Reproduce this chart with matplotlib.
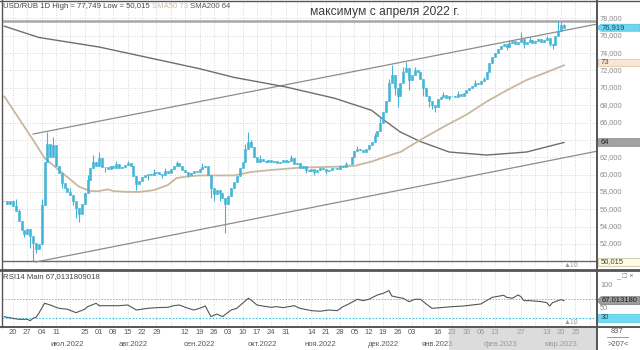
import numpy as np
import pandas as pd
import matplotlib
matplotlib.use("Agg")
import matplotlib.pyplot as plt
from matplotlib.patches import Rectangle, Polygon
from matplotlib.lines import Line2D
from matplotlib.transforms import blended_transform_factory as blend

plt.rcParams['font.family'] = ['Liberation Sans', 'DejaVu Sans']

W, H = 640, 350

# ---- data ----
first_day = '2022-06-15'
holidays = ['2022-11-04', '2023-01-02', '2023-02-23', '2023-03-08']
bars_visible = 207

first_open = 57.0
close = [
    56.9, 56.6, 57.0, 56.4, 55.8, 54.6, 53.6, 53.2, 53.7, 52.9,
    52.1, 51.4, 52.0, 56.5, 61.5, 63.5, 62.0, 63.4, 61.0, 60.2,
    59.0, 58.4, 58.0, 57.6, 57.0, 56.1, 55.4, 56.6, 57.9, 59.4,
    60.7, 61.5, 61.0, 61.9, 60.9, 60.9, 60.6, 61.0, 60.7, 61.2,
    60.8, 60.9, 61.1, 61.3, 61.0, 59.8, 58.9, 59.3, 59.7, 59.9,
    60.1, 60.0, 60.2, 60.3, 60.1, 60.0, 60.4, 60.2, 60.6, 61.0,
    61.3, 61.0, 60.5, 60.3, 60.0, 60.2, 60.4, 60.3, 60.6, 60.9,
    61.0, 60.0, 58.5, 57.8, 58.2, 57.9, 57.3, 56.6, 57.5, 58.5,
    59.2, 59.8, 60.8, 61.5, 63.0, 63.8, 63.2, 62.0, 61.5, 61.8,
    61.6, 61.4, 61.7, 61.5, 61.6, 61.3, 61.5, 61.7, 61.4, 61.6,
    61.9, 61.2, 61.3, 60.8, 61.0, 60.5, 60.4, 60.6, 60.3, 60.5,
    60.7, 60.6, 60.4, 60.5, 60.7, 60.8, 60.6, 61.0, 60.9, 61.2,
    61.2, 62.0, 62.7, 63.0, 62.8, 62.6, 62.9, 63.4, 63.8, 64.5,
    65.0, 66.0, 67.2, 68.5, 70.5, 71.5, 70.0, 69.0, 70.5, 71.8,
    72.3, 70.9, 71.5, 72.0, 71.8, 71.0, 70.0, 69.0, 68.5, 68.0,
    67.8, 68.7, 68.9, 69.2, 68.8, 69.0, 69.1, 68.9, 69.3, 69.1,
    69.4, 69.8, 70.0, 70.2, 70.5, 70.4, 70.8, 71.0, 71.8, 72.8,
    73.6, 74.0, 74.5, 74.8, 75.0, 74.7, 75.2, 75.4, 75.0, 75.3,
    75.6, 75.0, 75.3, 75.5, 75.2, 75.4, 75.6, 75.3, 75.5, 75.7,
    75.0, 74.9, 76.0, 76.5, 77.2, 76.919,
]
wick_high = {4: 57.2, 5: 56.0, 13: 57.2, 15: 64.9, 17: 64.3, 18: 62.5, 20: 60.0, 23: 58.5,
             29: 60.0, 31: 62.3, 33: 62.6, 39: 61.6, 43: 61.6, 52: 60.6, 56: 60.8, 60: 61.6,
             69: 61.3, 84: 63.5, 85: 64.9, 86: 64.0, 89: 62.3, 100: 62.3, 119: 61.4,
             123: 63.3, 129: 64.8, 131: 66.5, 134: 71.0, 135: 72.6, 139: 72.4, 140: 73.0,
             143: 72.4, 153: 69.5, 158: 69.6, 164: 70.9, 167: 71.3, 176: 75.5, 180: 76.4,
             183: 75.9, 189: 76.0, 193: 77.749, 194: 77.6, 195: 77.4}
wick_low = {7: 52.8, 9: 51.5, 10: 50.015, 11: 51.0, 20: 58.5, 24: 56.5, 25: 55.0, 26: 54.5,
            35: 60.3, 46: 58.2, 50: 59.4, 55: 59.6, 64: 59.7, 72: 57.3, 73: 57.0, 75: 57.0,
            77: 53.3, 82: 60.3, 105: 60.2, 108: 60.0, 112: 60.1, 136: 69.2, 137: 67.8,
            141: 69.8, 146: 69.0, 148: 67.8, 149: 67.5, 150: 67.2, 155: 68.6, 161: 69.5,
            175: 74.3, 181: 74.6, 190: 74.8, 191: 74.5}

sma50_bar = [0, 5, 10, 14, 18, 22, 26, 30, 33, 36, 38, 43, 47, 52, 57, 60, 64, 68,
             80, 86, 92, 103, 115, 122, 128, 135, 138, 145, 153, 161, 168, 175, 182, 189, 195]
sma50_val = [69.0, 66.5, 64.0, 61.9, 60.8, 59.7, 58.6, 58.1, 58.1, 58.3, 58.1, 58.0, 58.0, 58.2,
             58.8, 59.6, 59.8, 59.9, 59.9, 60.3, 60.5, 60.8, 60.9, 61.0, 61.5, 62.3, 62.6, 64.0,
             65.5, 66.9, 68.4, 69.7, 70.9, 71.8, 72.6]
sma200_bar = [0, 12, 33, 54, 68, 80, 98, 115, 128, 133, 138, 145, 155, 168, 182, 195]
sma200_val = [77.1, 75.8, 74.7, 73.2, 72.2, 71.2, 70.1, 68.8, 67.4, 66.1, 64.9, 63.8, 62.6,
              62.25, 62.6, 63.7]

chan_up_bar = [10, 144]
chan_up_val = [64.67, 73.31]
chan_lo_bar = [11, 138]
chan_lo_val = [49.93, 58.22]

price_high = 77.749
price_low = 50.015
last_price = 76.919
sma50_last = 73
sma200_last = 64

rsi_bar = [0, 1, 3, 5, 8, 9, 10, 11, 12, 14, 16, 19, 22, 25, 28, 29, 32, 33, 37, 40, 43, 44, 46,
           50, 53, 57, 59, 61, 64, 66, 68, 70, 72, 74, 76, 79, 81, 83, 85, 86, 88, 90, 93, 95,
           97, 101, 103, 107, 110, 113, 116, 118, 120, 123, 125, 127, 130, 132, 134, 135, 137,
           139, 141, 143, 145, 147, 149, 152, 156, 160, 163, 166, 168, 170, 174, 175, 177, 179,
           180, 181, 183, 187, 189, 190, 191, 192, 194, 195]
rsi_val = [32.2, 30.8, 28.7, 26.5, 26.5, 23.5, 28.7, 30.8, 39.5, 61.3, 57.6, 50.4, 48.3, 40.9,
           48.3, 54.0, 61.3, 56.1, 56.1, 56.1, 57.6, 54.0, 46.7, 50.4, 51.8, 52.6, 56.1, 57.6,
           50.4, 46.7, 50.4, 55.4, 32.2, 38.0, 32.2, 46.7, 50.4, 61.3, 72.2, 68.5, 57.6, 55.4,
           52.6, 54.0, 51.8, 56.1, 50.4, 45.3, 44.0, 46.7, 45.3, 54.0, 59.8, 70.0, 67.1, 70.0,
           79.4, 83.0, 88.8, 77.2, 74.3, 72.2, 64.9, 70.0, 70.0, 59.8, 50.4, 51.8, 54.0, 55.4,
           57.6, 59.8, 67.1, 74.3, 78.7, 74.3, 72.2, 79.4, 75.7, 67.1, 67.1, 64.9, 62.7, 55.4,
           62.7, 64.9, 69.3, 67.0]
rsi_last = 67.0131809018
rsi_levels = [70, 30]

tick_days = ['2022-06-20', '2022-06-27', '2022-07-04', '2022-07-11', '2022-07-25', '2022-08-01',
             '2022-08-08', '2022-08-15', '2022-08-22', '2022-08-29', '2022-09-12', '2022-09-19',
             '2022-09-26', '2022-10-03', '2022-10-10', '2022-10-17', '2022-10-24', '2022-10-31',
             '2022-11-14', '2022-11-21', '2022-11-28', '2022-12-05', '2022-12-12', '2022-12-19',
             '2022-12-26', '2023-01-03', '2023-01-16', '2023-01-23', '2023-01-30', '2023-02-06',
             '2023-02-13', '2023-02-27', '2023-03-13', '2023-03-20', '2023-03-27']
tick_text = ['20', '27', '04', '11', '25', '01', '08', '15', '22', '29', '12', '19', '26', '03',
             '10', '17', '24', '31', '14', '21', '28', '05', '12', '19', '26', '03', '16', '23',
             '30', '06', '13', '27', '13', '20', '25']
month_days = ['2022-07-15', '2022-08-17', '2022-09-19', '2022-10-19', '2022-11-17',
              '2022-12-19', '2023-01-16', '2023-02-15', '2023-03-20']
month_text = ['июл.2022', 'авг.2022', 'сен.2022', 'окт.2022', 'ноя.2022', 'дек.2022',
              'янв.2023', 'фев.2023', 'мар.2023']

# ---- helpers ----
def fx(px):
    return px / W

def fy(py):
    return 1 - py / H

days = pd.bdate_range(first_day, periods=240)
days = days[~days.isin(pd.to_datetime(holidays))]
pos = {d: i for i, d in enumerate(days)}
week = days.to_period('W')
week_start = [i for i in range(1, len(days)) if week[i] != week[i - 1]]

CANDLE = '#42b4d8'
GRID = '#c9c9c9'
FRAME = '#555555'
LBL = '#8a8a8a'

fig = plt.figure(figsize=(6.4, 3.5), dpi=100)
fig.patch.set_facecolor('white')

x_right = bars_visible - 0.5
x_left = x_right - 595 / 2.87

ax = fig.add_axes([fx(2), fy(268), fx(597) - fx(2), fy(1) - fy(268)])
ar = fig.add_axes([fx(2), fy(327), fx(597) - fx(2), fy(271) - fy(327)])
for a in (ax, ar):
    a.set_xlim(x_left, x_right)
    a.set_xticks([])
    a.set_yticks([])
    for s in a.spines.values():
        s.set_visible(False)
    for w in week_start:
        if w < bars_visible:
            a.axvline(w, color=GRID, lw=0.6, ls=(0, (1, 2)), zorder=0)

ax.set_ylim(49.235, 80.0)
ar.set_ylim(9.78, 131.5)

# ---- main panel ----
for g in range(50, 80, 2):
    ax.axhline(g, color=GRID, lw=0.6, ls=(0, (1, 2)), zorder=0)

ax.axhline(price_high, color='#a6a6a6', lw=1.8, zorder=1)
ax.axhline(price_low, color='#6a6a6a', lw=1.0, zorder=1)

for bars, vals in ((chan_up_bar, chan_up_val), (chan_lo_bar, chan_lo_val)):
    k = (vals[1] - vals[0]) / (bars[1] - bars[0])
    ax.plot([bars[0], x_right], [vals[0], vals[0] + k * (x_right - bars[0])],
            color='#8c8c8c', lw=0.9, zorder=2)

ax.plot(sma200_bar, sma200_val, color='#6e6e6e', lw=1.0, zorder=2)
ax.plot(sma50_bar, sma50_val, color='#c9b8a0', lw=1.3, zorder=2)

c = np.array(close)
idx = np.arange(len(c))
o = np.r_[first_open, c[:-1]]
hi = np.maximum(o, c)
lo = np.minimum(o, c)
for i, v in wick_high.items():
    hi[i] = v
for i, v in wick_low.items():
    lo[i] = v
ax.vlines(idx, lo, hi, color=CANDLE, lw=0.8, zorder=3)
ax.bar(idx, np.abs(c - o), bottom=np.minimum(o, c), width=0.7,
       color=CANDLE, edgecolor=CANDLE, lw=0.4, zorder=3)

# right price scale (the 64,000 label is hidden under the SMA200 box in the picture)
tr = blend(fig.transFigure, ax.transData)
for g in range(52, 79, 2):
    if g == sma200_last:
        continue
    ax.text(fx(600), g, f'{g},000', transform=tr, fontsize=5.3, color=LBL,
            va='center', ha='left', clip_on=False)

ppu = 266 / (80.0 - 49.235)

def box(axis, trans, val, text, fc, ec, tc, hpx, ppu, pointer=False):
    h = hpx / ppu / 2
    if pointer:
        xs = [fx(597), fx(601), fx(640), fx(640), fx(601)]
        ys = [val, val + h, val + h, val - h, val - h]
    else:
        xs = [fx(598), fx(598), fx(639.5), fx(639.5)]
        ys = [val - h, val + h, val + h, val - h]
    axis.add_patch(Polygon(list(zip(xs, ys)), closed=True, transform=trans, fc=fc, ec=ec,
                           lw=0.5, clip_on=False, zorder=5))
    axis.text(fx(601 if not pointer else 602), val, text, transform=trans, fontsize=5.5,
              color=tc, va='center', ha='left', clip_on=False, zorder=6)

box(ax, tr, sma50_last - 0.1, str(sma50_last), '#f8e6d2', '#d8c0a0', '#505050', 6.5, ppu)
box(ax, tr, sma200_last - 0.25, str(sma200_last), '#a2a2a2', '#8a8a8a', '#202020', 8, ppu)
box(ax, tr, price_low - 0.05, f'{price_low:.3f}'.replace('.', ','), '#fffbe4', '#bdbd9a',
    '#404040', 8, ppu)
box(ax, tr, last_price, f'{last_price:.3f}'.replace('.', ','), '#6fd6ef', '#4cbfe0',
    '#1c4a60', 7, ppu, pointer=True)

# title
t1 = ax.text(fx(3), fy(7), f'USD/RUB 1D High = {price_high:.3f} Low = {price_low:.3f} '
             .replace('.', ','), transform=fig.transFigure, fontsize=5.6,
             color='#454545', va='center', ha='left')
t2 = ax.annotate(f'SMA50 {sma50_last} ', xy=(1, 0), xycoords=t1, va='bottom', ha='left',
                 fontsize=5.6, color='#d2bca0')
ax.annotate(f'SMA200 {sma200_last}', xy=(1, 0), xycoords=t2, va='bottom', ha='left',
            fontsize=5.6, color='#555555')
fig.text(fx(385), fy(11.5), 'максимум с апреля 2022 г.', ha='center', va='center',
         fontsize=8.7, color='#3c3c3c')
fig.text(fx(571), fy(265.5), '▲10', ha='center', va='center', fontsize=5,
         color='#9a9a9a')

# ---- RSI panel ----
ar.axhline(rsi_levels[0], color='#a8a8a8', lw=0.7, ls=(0, (1.5, 1.5)), zorder=1)
ar.axhline(rsi_levels[1], color='#3cc4e0', lw=0.8, ls=(0, (1.5, 1.5)), zorder=1)
ar.plot(rsi_bar, rsi_val, color='#555555', lw=0.8, zorder=3)
fig.text(fx(3), fy(276.5), f'RSI14 Main {rsi_last:.10f}'.replace('.', ','), fontsize=5.6,
         color='#454545', va='center', ha='left')
fig.text(fx(571), fy(322.5), '▲10', ha='center', va='center', fontsize=5,
         color='#9a9a9a')

trr = blend(fig.transFigure, ar.transData)
for g in (100, 50):
    ar.text(fx(600), g, str(g), transform=trr, fontsize=5.3, color=LBL, va='center',
            ha='left', clip_on=False)
rppu = 56 / (131.5 - 9.78)
box(ar, trr, rsi_last, str(rsi_last)[:9], '#9c9c9c', '#7c7c7c', '#1a1a1a', 8, rppu,
    pointer=True)
box(ar, trr, rsi_levels[1], str(rsi_levels[1]), '#6fdcf0', '#4cc6e2', '#1c4a60', 8, rppu)
fig.text(fx(625), fy(277), '_ □ ×', ha='center', va='center', fontsize=5.5, color='#777777')

# ---- time scale ----
td = blend(ar.transData, fig.transFigure)
for d, s in zip(tick_days, tick_text):
    ar.text(pos[pd.Timestamp(d)], fy(332), s, transform=td, fontsize=5.5, color='#5a5a5a',
            ha='center', va='center', clip_on=False)
for d, s in zip(month_days, month_text):
    ar.text(pos[pd.Timestamp(d)], fy(345), s, transform=td, fontsize=5.5, color='#5a5a5a',
            ha='center', va='center', clip_on=False)

fig.text(fx(617), fy(331.5), '837', ha='center', va='center', fontsize=5.5, color='#5a5a5a')
fig.lines.append(Line2D([fx(607), fx(628)], [fy(337), fy(337)], transform=fig.transFigure,
                        color='#8a8a8a', lw=0.6))
fig.text(fx(618), fy(344), '>207<', ha='center', va='center', fontsize=5.5, color='#5a5a5a')

fig.patches.append(Rectangle((fx(449), 0), fx(597) - fx(449), fy(327.8), transform=fig.transFigure,
                             fc='#c6c6c6', ec='none', alpha=0.6, zorder=10))

# ---- frames ----
frame = [([0, W], [1, 1], 1.0), ([1.5, 1.5], [0, 327], 1.0), ([597, 597], [0, H], 1.4),
         ([0, W], [269.5, 269.5], 2.0), ([0, W], [327.3, 327.3], 1.4)]
for xs, ys, lw in frame:
    fig.lines.append(Line2D([fx(v) for v in xs], [fy(v) for v in ys],
                            transform=fig.transFigure, color=FRAME, lw=lw, zorder=11))

fig.savefig('out.png', dpi=100)
